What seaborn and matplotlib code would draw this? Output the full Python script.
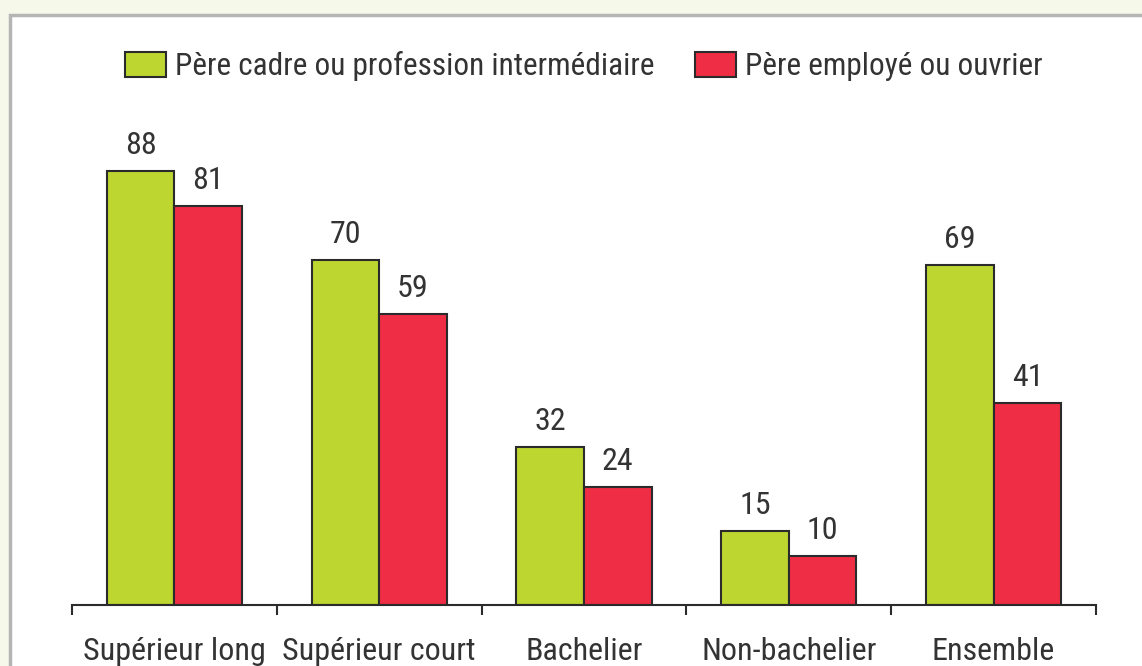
import numpy as np
import pandas as pd
import matplotlib.pyplot as plt
import seaborn as sns
from matplotlib.patches import Patch, Rectangle

# Data
categories = ["Supérieur long", "Supérieur court", "Bachelier", "Non-bachelier", "Ensemble"]
series_names = ["Père cadre ou profession intermédiaire", "Père employé ou ouvrier"]
cadre_values = [88, 70, 32, 15, 69]
ouvrier_values = [81, 59, 24, 10, 41]

GREEN = "#bdd630"
RED = "#ef2d45"
TEXT = "#333333"
EDGE = "#2b2b2b"

sns.set_theme(style="white")
plt.rcParams['font.family'] = ['Roboto Condensed', 'Liberation Sans Narrow', 'Roboto', 'DejaVu Sans']

df = pd.DataFrame({
    "cat": categories * 2,
    "val": cadre_values + ouvrier_values,
    "group": [series_names[0]] * len(categories) + [series_names[1]] * len(categories),
})

fig = plt.figure(figsize=(11.42, 6.66), dpi=100)
fig.patch.set_facecolor("#f6f8ea")

# white panel with grey border (cropped at right/bottom like the reference)
panel = Rectangle((10 / 1142, -0.05), 1.2, 1 - 15 / 666 + 0.05, transform=fig.transFigure,
                  facecolor="white", edgecolor="#b5b5b5", linewidth=2.5, zorder=-10)
fig.patches.append(panel)

ax = fig.add_axes([72 / 1142, 1 - 605 / 666, (1096 - 72) / 1142, 493 / 666])
ax.set_facecolor("none")

sns.barplot(data=df, x="cat", y="val", hue="group", order=categories, hue_order=series_names,
            palette=[GREEN, RED], width=0.66, edgecolor=EDGE, linewidth=1.5,
            saturation=1, legend=False, ax=ax)

for cont in ax.containers:
    ax.bar_label(cont, padding=8, fontsize=23, color=TEXT)

ax.set_xlim(-0.5, len(categories) - 0.5)
ax.set_ylim(0, 100)
ax.set_xlabel("")
ax.set_ylabel("")
ax.set_yticks([])
for s in ["top", "right", "left"]:
    ax.spines[s].set_visible(False)
ax.spines["bottom"].set_color(EDGE)
ax.spines["bottom"].set_linewidth(1.5)

# ticks at category boundaries, labels centred without ticks
ax.set_xticks(np.arange(len(categories) + 1) - 0.5, minor=True)
ax.tick_params(axis="x", which="minor", length=7.5, width=1.5, color=EDGE, bottom=True)
ax.tick_params(axis="x", which="major", length=0, pad=23, labelsize=23, labelcolor=TEXT)

handles = [Patch(facecolor=GREEN, edgecolor=EDGE, linewidth=1.5, label=series_names[0]),
           Patch(facecolor=RED, edgecolor=EDGE, linewidth=1.5, label=series_names[1])]
fig.legend(handles=handles, loc="center", bbox_to_anchor=(584 / 1142, 1 - 66 / 666), ncol=2,
           frameon=False, fontsize=22.5, labelcolor=TEXT, handlelength=1.3, handleheight=0.85,
           handletextpad=0.3, columnspacing=1.3)

fig.savefig("out.png", dpi=100, facecolor=fig.get_facecolor())
